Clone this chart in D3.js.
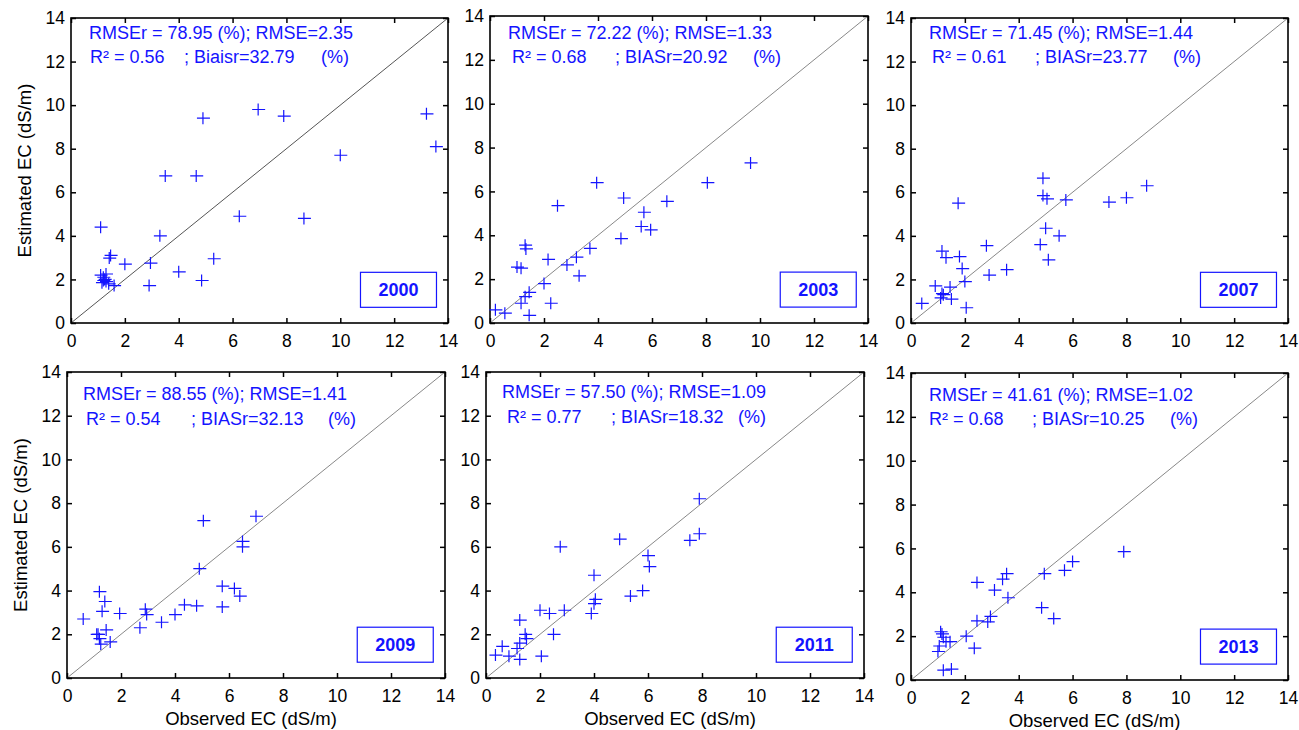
<!DOCTYPE html>
<html>
<head>
<meta charset="utf-8">
<script src="https://cdn.jsdelivr.net/npm/d3@7"></script>
<style>
  body { margin: 0; background: #fff; }
  svg { display: block; font-family: Arial, "Liberation Sans", sans-serif; }
</style>
</head>
<body>
<div id="chart"></div>
<script>
// values
var years = ["2000", "2003", "2007", "2009", "2011", "2013"];

var obs2000 = [1.1, 4.9, 6.95, 7.9, 13.2, 13.55, 10.0, 3.5, 4.65, 6.25, 8.65, 3.3, 5.3, 2.95, 2.0, 1.47, 1.42, 4.0, 4.85, 2.9, 1.1, 1.2, 1.25, 1.3, 1.15, 1.4, 1.6, 1.3, 1.2];
var est2000 = [4.4, 9.4, 9.8, 9.5, 9.6, 8.1, 7.7, 6.75, 6.75, 4.9, 4.8, 4.0, 2.95, 2.75, 2.7, 3.1, 2.98, 2.35, 1.95, 1.72, 2.2, 2.1, 2.0, 1.9, 1.85, 1.8, 1.72, 2.25, 1.95];

var obs2003 = [9.65, 8.05, 3.95, 4.95, 6.55, 2.5, 5.7, 5.6, 5.95, 4.85, 3.7, 1.3, 1.33, 3.2, 2.15, 2.85, 1.0, 1.15, 3.3, 2.0, 1.45, 1.3, 1.15, 2.25, 0.2, 0.55, 1.45];
var est2003 = [7.3, 6.4, 6.4, 5.7, 5.55, 5.35, 5.05, 4.4, 4.25, 3.85, 3.4, 3.55, 3.38, 3.0, 2.9, 2.65, 2.55, 2.5, 2.15, 1.8, 1.4, 1.2, 0.9, 0.9, 0.6, 0.45, 0.35];

var obs2007 = [4.9, 8.75, 1.75, 4.9, 5.05, 5.75, 8.0, 7.35, 5.0, 5.5, 4.8, 5.1, 2.8, 1.15, 1.3, 1.8, 1.9, 3.55, 2.9, 2.0, 0.9, 1.45, 1.15, 1.2, 1.5, 0.4, 2.05, 1.1];
var est2007 = [6.65, 6.3, 5.5, 5.85, 5.7, 5.65, 5.75, 5.55, 4.35, 4.0, 3.6, 2.9, 3.55, 3.3, 3.0, 3.05, 2.5, 2.45, 2.2, 1.9, 1.7, 1.65, 1.35, 1.3, 1.1, 0.9, 0.7, 1.15];

var obs2009 = [7.0, 5.05, 6.5, 6.5, 4.9, 5.75, 6.2, 6.4, 5.75, 4.8, 4.35, 4.0, 3.5, 2.9, 2.95, 2.7, 1.95, 1.2, 1.4, 1.3, 0.6, 1.45, 1.1, 1.2, 1.25, 1.6, 1.15];
var est2009 = [7.4, 7.2, 6.25, 6.0, 5.0, 4.2, 4.1, 3.75, 3.25, 3.3, 3.35, 2.9, 2.55, 3.15, 2.9, 2.3, 2.95, 3.95, 3.5, 3.05, 2.7, 2.2, 2.0, 1.8, 1.55, 1.65, 2.0];

var obs2011 = [7.9, 7.9, 7.55, 2.75, 4.95, 6.0, 6.05, 4.0, 5.8, 5.35, 4.05, 4.0, 3.9, 2.9, 2.0, 2.35, 1.25, 2.5, 1.45, 1.5, 1.25, 1.15, 0.6, 0.35, 0.85, 1.25, 2.05];
var est2011 = [8.2, 6.6, 6.3, 6.0, 6.35, 5.6, 5.1, 4.7, 4.0, 3.75, 3.6, 3.4, 2.95, 3.1, 3.1, 2.95, 2.65, 2.0, 2.0, 1.8, 1.6, 1.35, 1.45, 1.05, 1.0, 0.85, 1.0];

var obs2013 = [7.9, 6.0, 5.7, 4.95, 3.55, 3.4, 2.45, 3.1, 3.6, 4.85, 5.3, 2.95, 2.85, 2.45, 2.05, 2.35, 1.1, 1.2, 1.3, 1.45, 1.05, 1.0, 1.2, 1.5, 1.15];
var est2013 = [5.85, 5.4, 5.0, 4.85, 4.85, 4.6, 4.45, 4.1, 3.75, 3.3, 2.8, 2.9, 2.65, 2.7, 2.0, 1.45, 2.2, 1.95, 1.75, 1.75, 1.55, 1.3, 0.45, 0.5, 2.1];

var observed = [obs2000, obs2003, obs2007, obs2009, obs2011, obs2013];
var estimated = [est2000, est2003, est2007, est2009, est2011, est2013];

// annotation strings
var statLine1 = [
  "RMSEr = 78.95 (%); RMSE=2.35",
  "RMSEr = 72.22 (%); RMSE=1.33",
  "RMSEr = 71.45 (%); RMSE=1.44",
  "RMSEr = 88.55 (%); RMSE=1.41",
  "RMSEr = 57.50 (%); RMSE=1.09",
  "RMSEr = 41.61 (%); RMSE=1.02"
];
var statR2 = ["R² = 0.56", "R² = 0.68", "R² = 0.61", "R² = 0.54", "R² = 0.77", "R² = 0.68"];
var statBias = ["; Biaisr=32.79", "; BIASr=20.92", "; BIASr=23.77", "; BIASr=32.13", "; BIASr=18.32", "; BIASr=10.25"];

var ticks = [0, 2, 4, 6, 8, 10, 12, 14];

// panel frames and text offsets (pixels)
var frames = [
  { x: 71,  y: 18,  w: 377, h: 305, l1: [18, 21], r2: [19, 45], bias: [113, 45], pct: [250, 45], diag: "#555" },
  { x: 490, y: 16,  w: 378, h: 307, l1: [18, 23], r2: [22, 47], bias: [125, 47], pct: [263, 47], diag: "#888" },
  { x: 911, y: 18,  w: 377, h: 305, l1: [18, 21], r2: [21, 45], bias: [124, 45], pct: [262, 45], diag: "#888" },
  { x: 67,  y: 372, w: 378, h: 306, l1: [16, 28], r2: [19, 53], bias: [124, 53], pct: [261, 53], diag: "#888" },
  { x: 486, y: 372, w: 378, h: 306, l1: [16, 26], r2: [21, 51], bias: [125, 51], pct: [252, 51], diag: "#888" },
  { x: 911, y: 373, w: 377, h: 307, l1: [18, 28], r2: [18, 52], bias: [121, 52], pct: [259, 52], diag: "#888" }
];

var blue = "#1414ff";

var svg = d3.select("#chart").append("svg")
    .attr("width", 1299)
    .attr("height", 730);

frames.forEach(function (f, i) {
    var g = svg.append("g").attr("transform", "translate(" + f.x + "," + f.y + ")");

    var x = d3.scaleLinear().domain([0, 14]).range([0, f.w]);
    var y = d3.scaleLinear().domain([0, 14]).range([f.h, 0]);

    // inward ticks on all four sides, labels on bottom and left
    var axes = [
        g.append("g").attr("transform", "translate(0," + f.h + ")")
            .call(d3.axisBottom(x).tickValues(ticks).tickSizeInner(-5).tickSizeOuter(0).tickPadding(12)),
        g.append("g")
            .call(d3.axisLeft(y).tickValues(ticks).tickSizeInner(-5).tickSizeOuter(0).tickPadding(6)),
        g.append("g")
            .call(d3.axisTop(x).tickValues(ticks).tickSizeInner(-5).tickSizeOuter(0).tickFormat("")),
        g.append("g").attr("transform", "translate(" + f.w + ",0)")
            .call(d3.axisRight(y).tickValues(ticks).tickSizeInner(-5).tickSizeOuter(0).tickFormat(""))
    ];
    axes.forEach(function (a) {
        a.select(".domain").remove();
        a.selectAll(".tick line").attr("stroke", "#000").attr("stroke-width", 1.5);
        a.selectAll(".tick text").attr("font-size", 17.5).attr("fill", "#000")
            .attr("font-family", "Arial, 'Liberation Sans', sans-serif");
    });

    // 1:1 line
    g.append("line")
        .attr("x1", x(0)).attr("y1", y(0))
        .attr("x2", x(14)).attr("y2", y(14))
        .attr("stroke", f.diag).attr("stroke-width", 1);

    // box
    g.append("rect")
        .attr("width", f.w).attr("height", f.h)
        .attr("fill", "none").attr("stroke", "#000").attr("stroke-width", 1.6);

    // points as + markers
    var pts = observed[i].map(function (o, k) { return [o, estimated[i][k]]; });
    g.append("g").selectAll("path")
        .data(pts)
        .enter().append("path")
        .attr("transform", function (d) { return "translate(" + x(d[0]) + "," + y(d[1]) + ")"; })
        .attr("d", "M-6,0H7M0,-6V6")
        .attr("fill", "none")
        .attr("stroke", blue)
        .attr("stroke-width", 1.2);

    // stats text
    var tx = g.append("g").attr("fill", blue).attr("font-size", 18);
    tx.append("text").attr("x", f.l1[0]).attr("y", f.l1[1]).text(statLine1[i]);
    tx.append("text").attr("x", f.r2[0]).attr("y", f.r2[1]).text(statR2[i]);
    tx.append("text").attr("x", f.bias[0]).attr("y", f.bias[1]).text(statBias[i]);
    tx.append("text").attr("x", f.pct[0]).attr("y", f.pct[1]).text("(%)");

    // year box
    var bx = x(10.75), by = y(1.5);
    g.append("rect")
        .attr("x", bx).attr("y", by - 18)
        .attr("width", 76).attr("height", 35)
        .attr("fill", "#fff").attr("stroke", blue).attr("stroke-width", 1.2);
    g.append("text")
        .attr("x", bx + 38).attr("y", by + 6)
        .attr("text-anchor", "middle")
        .attr("font-size", 18).attr("font-weight", "bold")
        .attr("fill", blue)
        .text(years[i]);

    // axis titles
    if (i % 3 === 0) {
        g.append("text")
            .attr("transform", "translate(-40," + (f.h / 2) + ")rotate(-90)")
            .attr("text-anchor", "middle")
            .attr("font-size", 18.5)
            .text("Estimated EC (dS/m)");
    }
    if (i >= 3) {
        g.append("text")
            .attr("x", f.w / 2 - 5).attr("y", f.h + 47)
            .attr("text-anchor", "middle")
            .attr("font-size", 18.5)
            .text("Observed EC (dS/m)");
    }
});
</script>
</body>
</html>
